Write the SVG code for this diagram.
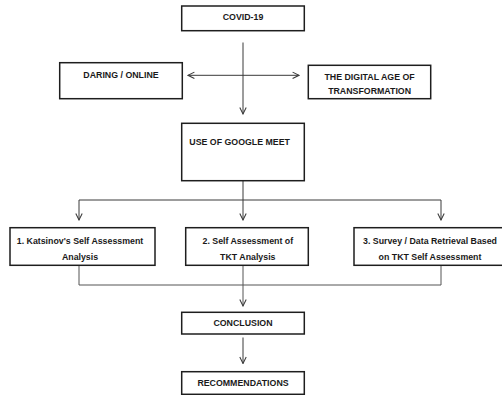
<svg xmlns="http://www.w3.org/2000/svg" width="502" height="395" viewBox="0 0 502 395">
<defs>
<style>
.box{fill:#fff;stroke:#1e1e1e;stroke-width:1.5}
.t{font-family:"Liberation Sans",Arial,sans-serif;font-weight:bold;font-size:8.8px;fill:#1a1a1a;text-anchor:middle}
.c{fill:none;stroke:#3a3a3a;stroke-width:1}
.g{fill:none;stroke:#555;stroke-width:1}
</style>
<marker id="v" viewBox="0 0 10 10" refX="9" refY="5" markerWidth="8" markerHeight="8" markerUnits="userSpaceOnUse" orient="auto-start-reverse">
<path d="M1,1 L9,5 L1,9" fill="none" stroke="#3a3a3a" stroke-width="1.3"/>
</marker>
</defs>
<rect width="502" height="395" fill="#fff"/>
<g id="connectors">
<line class="c" x1="243" y1="42.5" x2="243" y2="114" marker-end="url(#v)"/>
<line class="c" x1="188" y1="75.3" x2="299" y2="75.3" marker-start="url(#v)" marker-end="url(#v)"/>
<polyline class="c" points="243,181 243,200"/>
<line class="c" x1="79" y1="200" x2="441" y2="200"/>
<line class="c" x1="79" y1="200" x2="79" y2="220" marker-end="url(#v)"/>
<line class="c" x1="243" y1="200" x2="243" y2="220" marker-end="url(#v)"/>
<line class="c" x1="441" y1="200" x2="441" y2="220" marker-end="url(#v)"/>
<polyline class="g" points="79,265.5 79,285 441,285 441,265.5"/>
<line class="g" x1="243" y1="265.5" x2="243" y2="306" marker-end="url(#v)"/>
<line class="c" x1="243" y1="337.5" x2="243" y2="363.5" marker-end="url(#v)"/>
</g>
<g id="covid"><rect class="box" x="181.7" y="6" width="122.6" height="24.7"/><text class="t" x="243" y="19.9">COVID-19</text></g>
<g id="daring"><rect class="box" x="59.7" y="62.7" width="122.6" height="36"/><text class="t" x="121" y="78.4">DARING / ONLINE</text></g>
<g id="digital"><rect class="box" x="308.3" y="65.3" width="122.4" height="33.4"/><text class="t" x="369.6" y="79.8">THE DIGITAL AGE OF</text><text class="t" x="369.6" y="94.1">TRANSFORMATION</text></g>
<g id="meet"><rect class="box" x="181.7" y="123.3" width="122.6" height="57.4"/><text class="t" x="189.3" y="144.8" style="text-anchor:start">USE OF GOOGLE MEET</text></g>
<g id="katsinov"><rect class="box" x="10" y="227.7" width="145" height="37.6"/><text class="t" x="80" y="243.9">1. Katsinov's Self Assessment</text><text class="t" x="80" y="259.9">Analysis</text></g>
<g id="tkt"><rect class="box" x="185.7" y="227.7" width="122.6" height="37.6"/><text class="t" x="247.8" y="243.9">2. Self Assessment of</text><text class="t" x="247.8" y="259.9">TKT Analysis</text></g>
<g id="survey"><rect class="box" x="354" y="227.7" width="160" height="37.6"/><text class="t" x="430" y="243.9">3. Survey / Data Retrieval Based</text><text class="t" x="430" y="259.9">on TKT Self Assessment</text></g>
<g id="conclusion"><rect class="box" x="181.7" y="312.3" width="122.6" height="21.7"/><text class="t" x="243" y="326.4">CONCLUSION</text></g>
<g id="recommendations"><rect class="box" x="181.7" y="371.7" width="122.6" height="22.6"/><text class="t" x="243" y="385.9">RECOMMENDATIONS</text></g>
</svg>
